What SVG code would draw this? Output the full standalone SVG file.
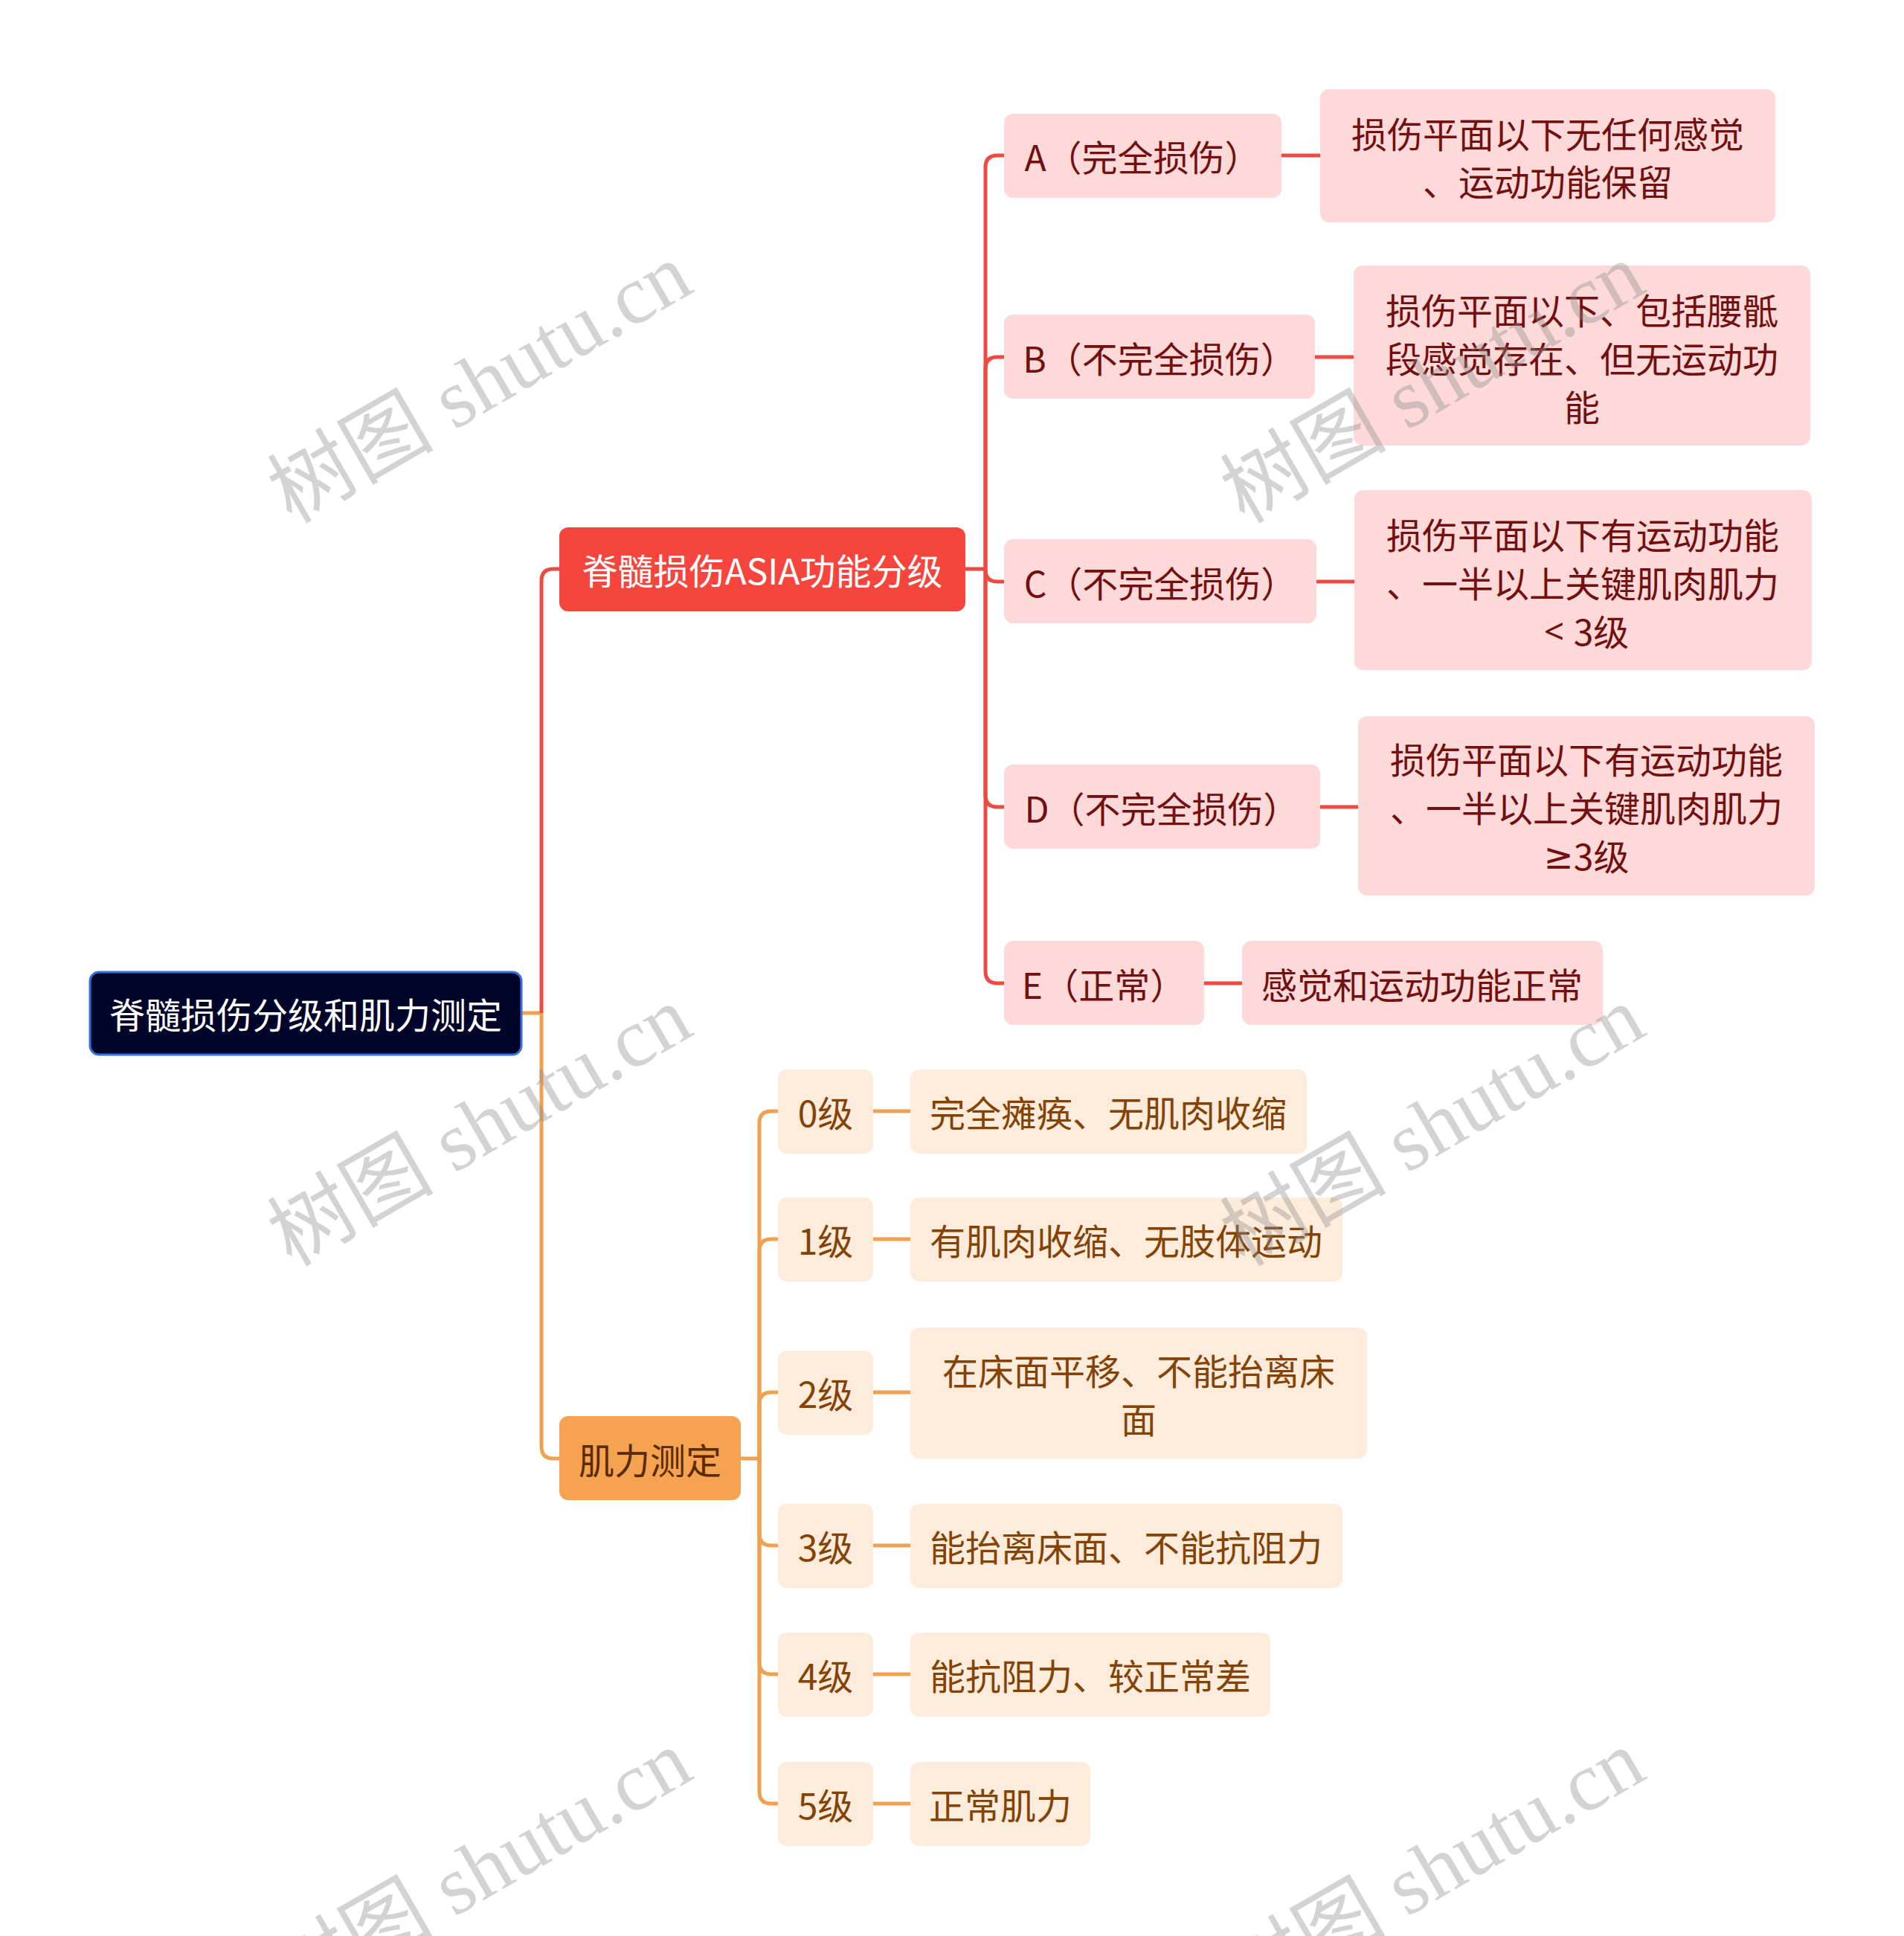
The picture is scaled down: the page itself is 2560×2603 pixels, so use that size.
<svg xmlns="http://www.w3.org/2000/svg" width="2560" height="2603" viewBox="0 0 2560 2603">
<style>
text{font-family:"Noto Sans CJK SC","Noto Sans",sans-serif;font-size:48px;text-anchor:middle;dominant-baseline:central}
.lat{font-family:"Noto Sans","DejaVu Sans",sans-serif}
.root rect{fill:#02052a;stroke:#3570de;stroke-width:3}
.root text{fill:#ffffff}
.l1r rect{fill:#f6453d}
.l1r text{fill:#ffffff}
.l1o rect{fill:#f5a251}
.l1o text{fill:#5a2a00}
.rn rect{fill:#fdd9d9}
.rn text{fill:#730f0f}
.on rect{fill:#fdecdc}
.on text{fill:#844305}
.cr{fill:none;stroke:#ef4a42;stroke-width:5}
.co{fill:none;stroke:#f0a150;stroke-width:5}
.wm{font-family:"Liberation Serif","Noto Sans CJK SC",serif;font-size:112px;fill:#8c8c8c;fill-opacity:0.38;text-anchor:middle;dominant-baseline:central}
</style>
<rect width="2560" height="2603" fill="#ffffff"/>
<g id="connectors">
<path class="co" d="M701,1362 H728"/>
<path class="cr" d="M728,1362 V781 Q728,765 744,765 H752"/>
<path class="co" d="M728,1362 V1945 Q728,1961 744,1961 H752"/>
<path class="cr" d="M1298,765 H1325"/>
<path class="cr" d="M1325,765 V225 Q1325,209 1341,209 H1350"/>
<path class="cr" d="M1325,765 V496 Q1325,480 1341,480 H1350"/>
<path class="cr" d="M1325,765 V766 Q1325,782 1341,782 H1350"/>
<path class="cr" d="M1325,765 V1069 Q1325,1085 1341,1085 H1350"/>
<path class="cr" d="M1325,765 V1306 Q1325,1322 1341,1322 H1350"/>
<path class="cr" d="M1723,209 H1775"/>
<path class="cr" d="M1768,480 H1820"/>
<path class="cr" d="M1770,782 H1821"/>
<path class="cr" d="M1775,1085 H1826"/>
<path class="cr" d="M1619,1322 H1670"/>
<path class="co" d="M996,1961 H1021"/>
<path class="co" d="M1021,1961 V1510 Q1021,1494 1037,1494 H1046"/>
<path class="co" d="M1021,1961 V1682 Q1021,1666 1037,1666 H1046"/>
<path class="co" d="M1021,1961 V1888 Q1021,1872 1037,1872 H1046"/>
<path class="co" d="M1021,1961 V2062 Q1021,2078 1037,2078 H1046"/>
<path class="co" d="M1021,1961 V2235 Q1021,2251 1037,2251 H1046"/>
<path class="co" d="M1021,1961 V2409 Q1021,2425 1037,2425 H1046"/>
<path class="co" d="M1174,1494 H1224"/>
<path class="co" d="M1174,1666 H1224"/>
<path class="co" d="M1174,1872 H1224"/>
<path class="co" d="M1174,2078 H1224"/>
<path class="co" d="M1174,2251 H1224"/>
<path class="co" d="M1174,2425 H1224"/>
</g>
<g id="root" class="root"><rect x="121" y="1307" width="580" height="111" rx="12"/><text x="411" y="1362">脊髓损伤分级和肌力测定</text></g>
<g id="asia" class="l1r"><rect x="752" y="709" width="546" height="113" rx="12"/><text x="1025" y="765">脊髓损伤ASIA功能分级</text></g>
<g id="muscle" class="l1o"><rect x="752" y="1904" width="244" height="113" rx="12"/><text x="874" y="1961">肌力测定</text></g>
<g id="a" class="rn"><rect x="1350" y="153" width="373" height="113" rx="12"/><text x="1536" y="209">A（完全损伤）</text></g>
<g id="b" class="rn"><rect x="1350" y="423" width="418" height="113" rx="12"/><text x="1559" y="480">B（不完全损伤）</text></g>
<g id="c" class="rn"><rect x="1350" y="725" width="420" height="113" rx="12"/><text x="1560" y="782">C（不完全损伤）</text></g>
<g id="d" class="rn"><rect x="1350" y="1028" width="425" height="113" rx="12"/><text x="1562" y="1085">D（不完全损伤）</text></g>
<g id="e" class="rn"><rect x="1350" y="1265" width="269" height="113" rx="12"/><text x="1484" y="1322">E（正常）</text></g>
<g id="da" class="rn"><rect x="1775" y="120" width="612" height="179" rx="12"/><text x="2081" y="178">损伤平面以下无任何感觉</text><text x="2081" y="242">、运动功能保留</text></g>
<g id="db" class="rn"><rect x="1820" y="357" width="614" height="242" rx="12"/><text x="2127" y="415">损伤平面以下、包括腰骶</text><text x="2127" y="480">段感觉存在、但无运动功</text><text x="2127" y="545">能</text></g>
<g id="dc" class="rn"><rect x="1821" y="659" width="615" height="242" rx="12"/><text x="2128" y="717">损伤平面以下有运动功能</text><text x="2128" y="782">、一半以上关键肌肉肌力</text><text x="2133" y="847"><tspan class="lat">&lt; </tspan>3级</text></g>
<g id="dd" class="rn"><rect x="1826" y="963" width="614" height="241" rx="12"/><text x="2133" y="1019">损伤平面以下有运动功能</text><text x="2133" y="1084">、一半以上关键肌肉肌力</text><text x="2133" y="1149"><tspan class="lat">≥</tspan>3级</text></g>
<g id="de" class="rn"><rect x="1670" y="1265" width="485" height="113" rx="12"/><text x="1912" y="1322">感觉和运动功能正常</text></g>
<g id="g0" class="on"><rect x="1046" y="1438" width="128" height="113" rx="12"/><text x="1110" y="1494">0级</text></g>
<g id="g1" class="on"><rect x="1046" y="1610" width="128" height="113" rx="12"/><text x="1110" y="1666">1级</text></g>
<g id="g2" class="on"><rect x="1046" y="1816" width="128" height="113" rx="12"/><text x="1110" y="1872">2级</text></g>
<g id="g3" class="on"><rect x="1046" y="2022" width="128" height="113" rx="12"/><text x="1110" y="2078">3级</text></g>
<g id="g4" class="on"><rect x="1046" y="2195" width="128" height="113" rx="12"/><text x="1110" y="2251">4级</text></g>
<g id="g5" class="on"><rect x="1046" y="2369" width="128" height="113" rx="12"/><text x="1110" y="2425">5级</text></g>
<g id="d0" class="on"><rect x="1224" y="1438" width="533" height="113" rx="12"/><text x="1490" y="1494">完全瘫痪、无肌肉收缩</text></g>
<g id="d1" class="on"><rect x="1224" y="1610" width="581" height="113" rx="12"/><text x="1514" y="1666">有肌肉收缩、无肢体运动</text></g>
<g id="d2" class="on"><rect x="1224" y="1785" width="614" height="176" rx="12"/><text x="1531" y="1841">在床面平移、不能抬离床</text><text x="1531" y="1906">面</text></g>
<g id="d3" class="on"><rect x="1224" y="2022" width="581" height="113" rx="12"/><text x="1514" y="2078">能抬离床面、不能抗阻力</text></g>
<g id="d4" class="on"><rect x="1224" y="2195" width="484" height="113" rx="12"/><text x="1466" y="2251">能抗阻力、较正常差</text></g>
<g id="d5" class="on"><rect x="1224" y="2369" width="242" height="113" rx="12"/><text x="1345" y="2425">正常肌力</text></g>
<g id="watermarks">
<text class="wm" transform="translate(645,515) rotate(-30)">树图 shutu.cn</text>
<text class="wm" transform="translate(645,1514) rotate(-30)">树图 shutu.cn</text>
<text class="wm" transform="translate(645,2514) rotate(-30)">树图 shutu.cn</text>
<text class="wm" transform="translate(1926,515) rotate(-30)">树图 shutu.cn</text>
<text class="wm" transform="translate(1926,1514) rotate(-30)">树图 shutu.cn</text>
<text class="wm" transform="translate(1926,2514) rotate(-30)">树图 shutu.cn</text>
</g>
</svg>
